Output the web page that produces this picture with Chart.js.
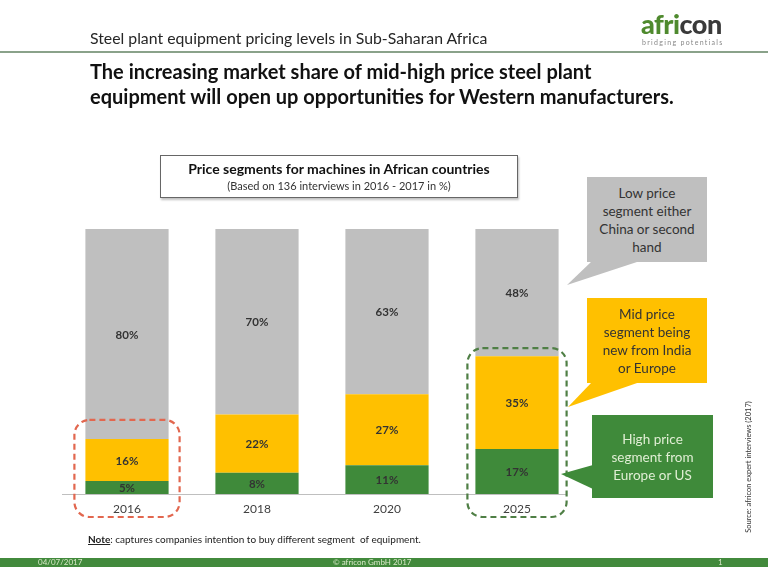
<!DOCTYPE html>
<html>
<head>
<meta charset="utf-8">
<script src="https://cdn.jsdelivr.net/npm/chart.js@4.4.0/dist/chart.umd.min.js"></script>
<style>
body { margin: 0; background: #fff; font-family: Lato, "Open Sans", sans-serif; }
#slide { position: relative; width: 768px; height: 576px; overflow: hidden; }
#chart { position: absolute; left: 0; top: 0; }
.abs { position: absolute; }
#subtitle { left: 90px; top: 28px; font-size: 15.8px; color: #262626; }
#logo { left: 641px; top: 9px; font-size: 27px; font-weight: 900; letter-spacing: -0.5px; line-height: 30px; }
#logo .g { color: #4f8a2e; }
#logo .d { color: #3a3a3a; }
#tag { left: 642px; top: 38px; font-size: 7px; color: #888; letter-spacing: 1.3px; }
#rule { left: 0; top: 51px; width: 768px; height: 2px; background: #8aa28a; }
#headline { left: 90px; top: 59px; font-size: 20px; font-weight: 700; line-height: 25px; color: #111; }
#titlebox { left: 160px; top: 155px; width: 356px; height: 41px; border: 1px solid #666; box-shadow: 1px 2px 2px rgba(0,0,0,0.25); text-align: center; background: #fff; }
#titlebox .t1 { font-size: 14px; font-weight: 700; color: #111; margin-top: 4px; }
#titlebox .t2 { font-size: 11px; color: #333; margin-top: 2px; }
.call { display: flex; align-items: center; justify-content: center; text-align: center; font-size: 13.5px; line-height: 18px; }
#cLow { left: 587px; top: 177px; width: 120px; height: 85px; background: #bfbfbf; color: #333; }
#cMid { left: 587px; top: 298px; width: 120px; height: 85px; background: #ffc000; color: #333; }
#cHigh { left: 592px; top: 415px; width: 121px; height: 83px; background: #3f8a3a; color: #e0eed4; }
#tails { left: 0; top: 0; }
#note { left: 88px; top: 533px; font-size: 10px; color: #222; }
#note b { text-decoration: underline; }
#footer { left: 0; top: 558px; width: 768px; height: 9px; background: #428a3c; color: #d8e8c8; font-size: 8px; line-height: 9px; }
#source { left: 748px; top: 467px; font-size: 7.5px; color: #333; white-space: nowrap; transform: translate(-50%, -50%) rotate(-90deg); }
</style>
</head>
<body>
<div id="slide">
  <canvas id="chart" width="768" height="576"></canvas>

  <div class="abs" id="subtitle">Steel plant equipment pricing levels in Sub-Saharan Africa</div>
  <div class="abs" id="logo"><span class="g">afri</span><span class="d">con</span></div>
  <div class="abs" id="tag">bridging potentials</div>
  <div class="abs" id="rule"></div>
  <div class="abs" id="headline">The increasing market share of mid-high price steel plant<br>equipment will open up opportunities for Western manufacturers.</div>

  <div class="abs" id="titlebox">
    <div class="t1">Price segments for machines in African countries</div>
    <div class="t2">(Based on 136 interviews in 2016 - 2017 in %)</div>
  </div>

  <svg class="abs" id="tails" width="768" height="576">
    <polygon points="592,261 640,261 567,285" fill="#bfbfbf"/>
    <polygon points="592,382 640,382 568,407" fill="#ffc000"/>
    <polygon points="593,465 593,489 561,474" fill="#3f8a3a"/>
  </svg>
  <div class="abs call" id="cLow">Low price<br>segment either<br>China or second<br>hand</div>
  <div class="abs call" id="cMid">Mid price<br>segment being<br>new from India<br>or Europe</div>
  <div class="abs call" id="cHigh">High price<br>segment from<br>Europe or US</div>

  <div class="abs" id="source">Source: africon expert interviews (2017)</div>
  <div class="abs" id="note"><b>Note</b>: captures companies intention to buy different segment &nbsp;of equipment.</div>
  <div class="abs" id="footer">
    <span class="abs" style="left:38px">04/07/2017</span>
    <span class="abs" style="left:333px">© africon GmbH 2017</span>
    <span class="abs" style="left:718px">1</span>
  </div>
</div>

<script>
// values (percent of interviews)
const years = ['2016', '2018', '2020', '2025'];
const highShare = [5, 8, 11, 17];
const midShare = [16, 22, 27, 35];
const lowShare = [80, 70, 63, 48];

// 100% stacked, like the original excel chart
const totals = years.map((y, i) => highShare[i] + midShare[i] + lowShare[i]);
function asShare(arr) {
    return arr.map((v, i) => v / totals[i] * 100);
}

const segLabels = {
    id: 'segLabels',
    afterDatasetsDraw(chart) {
        const ctx = chart.ctx;
        ctx.save();
        ctx.font = 'bold 11.5px Lato, sans-serif';
        ctx.fillStyle = '#333';
        ctx.textAlign = 'center';
        ctx.textBaseline = 'middle';
        chart.data.datasets.forEach((ds, di) => {
            chart.getDatasetMeta(di).data.forEach((bar, i) => {
                const p = bar.getProps(['x', 'y', 'base'], true);
                ctx.fillText(ds.raw[i] + '%', p.x, (p.y + p.base) / 2 + 1);
            });
        });
        ctx.restore();
    }
};

// dashed rounded frames around 2016 and 2025 + the baseline
const frames = {
    id: 'frames',
    afterDraw(chart) {
        const ctx = chart.ctx;
        const area = chart.chartArea;
        ctx.save();
        ctx.strokeStyle = '#bfbfbf';
        ctx.lineWidth = 1;
        ctx.beginPath();
        ctx.moveTo(area.left, area.bottom + 0.5);
        ctx.lineTo(area.right - 15, area.bottom + 0.5);
        ctx.stroke();

        const boxes = [
            { idx: 0, color: '#e2674f', side: 11, top: 19 },
            { idx: 3, color: '#4f7f45', side: 8, top: 8 }
        ];
        const midMeta = chart.getDatasetMeta(1);
        boxes.forEach(b => {
            const bar = midMeta.data[b.idx].getProps(['x', 'y', 'width'], true);
            const x0 = bar.x - bar.width / 2 - b.side;
            const x1 = bar.x + bar.width / 2 + b.side;
            const y0 = bar.y - b.top;
            const y1 = area.bottom + 23;
            ctx.strokeStyle = b.color;
            ctx.lineWidth = 2.2;
            ctx.setLineDash([6, 4]);
            ctx.beginPath();
            ctx.roundRect(x0, y0, x1 - x0, y1 - y0, 15);
            ctx.stroke();
        });
        ctx.restore();
    }
};

var ctx = document.getElementById('chart').getContext('2d');
var chart = new Chart(ctx, {
    type: 'bar',
    data: {
        labels: years,
        datasets: [
            { label: 'High price', data: asShare(highShare), raw: highShare, backgroundColor: '#3f8a3a' },
            { label: 'Mid price', data: asShare(midShare), raw: midShare, backgroundColor: '#ffc000' },
            { label: 'Low price', data: asShare(lowShare), raw: lowShare, backgroundColor: '#bfbfbf' }
        ]
    },
    options: {
        responsive: false,
        animation: false,
        layout: { padding: { left: 62, right: 186, top: 229, bottom: 52 } },
        datasets: { bar: { categoryPercentage: 1, barPercentage: 0.64 } },
        plugins: { legend: { display: false }, tooltip: { enabled: false } },
        scales: {
            x: {
                stacked: true,
                grid: { display: false, drawTicks: false },
                border: { display: false },
                ticks: { color: '#404040', font: { size: 12, family: 'Lato' }, padding: 8 },
                afterFit: s => { s.height = 30; }
            },
            y: { stacked: true, display: false, min: 0, max: 100 }
        }
    },
    plugins: [segLabels, frames]
});
</script>
</body>
</html>
